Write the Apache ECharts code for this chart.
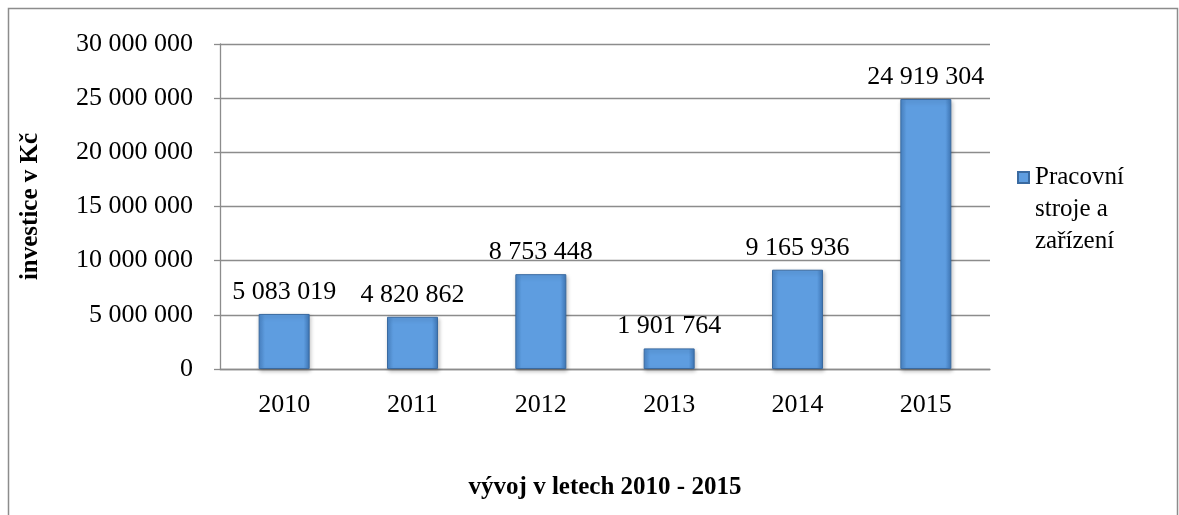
<!DOCTYPE html>
<html lang="cs">
<head>
    <meta charset="UTF-8">
    <title>Investice</title>
    <style>
        body { margin: 0; background: #fff; }
        #main { width: 1179px; height: 515px; }
    </style>
</head>
<body>
<div id="main"></div>
<script src="https://cdn.jsdelivr.net/npm/echarts@6/dist/echarts.min.js"></script>
<script>
    const years = ['2010', '2011', '2012', '2013', '2014', '2015']
    const investice = [5083019, 4820862, 8753448, 1901764, 9165936, 24919304]
    const seriesName = 'Pracovní\nstroje a\nzařízení'

    function fmt(v) {
        return String(v).replace(/\B(?=(\d{3})+(?!\d))/g, ' ')
    }

    const font = '"Liberation Serif", "Times New Roman", serif'
    let myChart = echarts.init(document.querySelector('#main'))
    let option = {
        animation: false,
        textStyle: { fontFamily: font },
        graphic: [{
            type: 'rect',
            shape: { x: 8.5, y: 8.5, width: 1169, height: 530 },
            style: { fill: 'none', stroke: '#8c8c8c', lineWidth: 1.5 }
        }],
        grid: { left: 220, top: 44, width: 770, height: 325 },
        legend: {
            data: [seriesName],
            left: 1012,
            top: 156,
            // square at the top of a tall icon box so it sits by the first line
            icon: 'path://M0,0h10v10h-10z M0,67.3',
            itemWidth: 11,
            itemHeight: 74,
            itemGap: 0,
            textStyle: { fontFamily: font, fontSize: 25, color: '#000', lineHeight: 32, padding: [0, 0, 0, 1] }
        },
        xAxis: {
            type: 'category',
            data: years,
            name: 'vývoj v letech 2010 - 2015',
            nameLocation: 'middle',
            nameGap: 106,
            nameTextStyle: { fontFamily: font, fontSize: 25, fontWeight: 'bold', color: '#000' },
            axisLine: { lineStyle: { color: '#8c8c8c', width: 1.3 } },
            axisTick: { length: 8, lineStyle: { color: '#8c8c8c', width: 1.3 } },
            axisLabel: { fontFamily: font, fontSize: 26, color: '#000', margin: 23 }
        },
        yAxis: {
            type: 'value',
            min: 0,
            max: 30000000,
            interval: 5000000,
            name: 'investice v Kč',
            nameLocation: 'middle',
            nameGap: 177,
            nameTextStyle: { fontFamily: font, fontSize: 25, fontWeight: 'bold', color: '#000' },
            axisLine: { show: true, lineStyle: { color: '#8c8c8c', width: 1.3 } },
            axisTick: { show: true, length: 6, lineStyle: { color: '#8c8c8c', width: 1.3 } },
            splitLine: { lineStyle: { color: '#8c8c8c', width: 1.3 } },
            axisLabel: { fontFamily: font, fontSize: 26, color: '#000', margin: 27, formatter: fmt }
        },
        series: [{
            name: seriesName,
            type: 'bar',
            data: investice,
            barWidth: 51,
            itemStyle: {
                color: new echarts.graphic.LinearGradient(0, 0, 1, 0, [
                    { offset: 0, color: '#4a86c8' },
                    { offset: 0.12, color: '#5e9de0' },
                    { offset: 0.88, color: '#5e9de0' },
                    { offset: 1, color: '#3f78b8' }
                ]),
                borderColor: '#3a6aa0',
                borderWidth: 1,
                shadowColor: 'rgba(0,0,0,0.25)',
                shadowBlur: 4,
                shadowOffsetX: 1,
                shadowOffsetY: 2
            },
            label: {
                show: true,
                position: 'top',
                distance: 9,
                fontFamily: font,
                fontSize: 26,
                color: '#000',
                formatter: p => fmt(p.value)
            }
        }]
    }
    myChart.setOption(option)
</script>
</body>
</html>
